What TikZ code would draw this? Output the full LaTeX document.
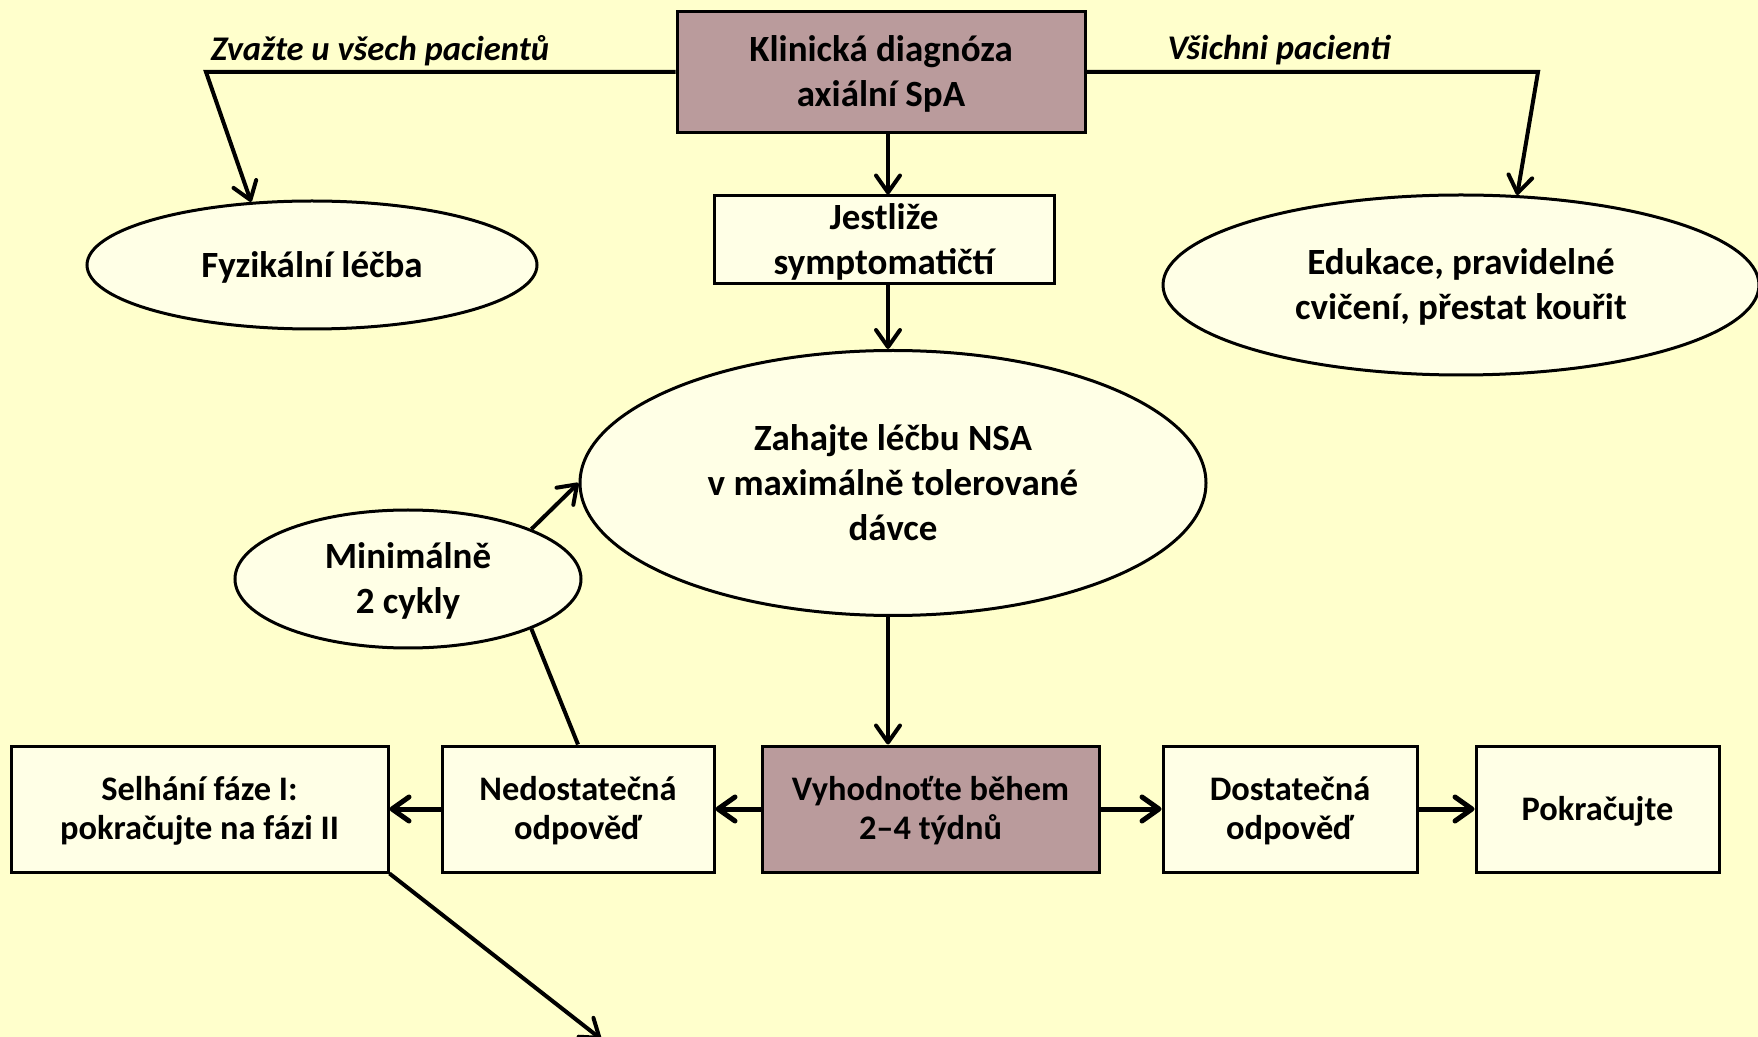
\documentclass[tikz,border=0pt]{standalone}
\usepackage{fontspec}
\setmainfont{Carlito}
\usetikzlibrary{shapes.geometric,arrows.meta}
\definecolor{pagebg}{HTML}{FFFFCC}
\definecolor{cellfill}{HTML}{FFFFE6}
\definecolor{keyfill}{HTML}{BA9B9C}
% struts give each text block the same first-line height and last-line
% depth, so text is centred by font metrics, not by the glyphs it holds
\newcommand\txtstrut{\rule{0pt}{0.9em}}
\begin{document}
\begin{tikzpicture}[x=0.5pt,y=-0.5pt,
  txt/.style={font=\fontsize{18.5}{22.5}\selectfont\bfseries, align=center, inner sep=0pt,
    execute at end node={\rule[-0.24em]{0pt}{0pt}}},
  cell/.style={txt, rectangle, draw, line width=1.5pt, fill=cellfill},
  rowcell/.style={cell, minimum height=63pt, font=\fontsize{17.2}{19.5}\selectfont\bfseries},
  oval/.style={txt, ellipse, draw, line width=1.5pt, fill=cellfill},
  branch/.style={font=\fontsize{17.3}{20}\selectfont\bfseries\itshape, inner sep=0pt, anchor=base},
  link/.style={line width=2pt},
  barb/.style={-{Straight Barb[length=8.5pt,width=12pt,round]}},
  conn/.style={link, barb},
  heavyconn/.style={line width=2.5pt, barb}]
\fill[pagebg] (0,0) rectangle (1758,1037);
\useasboundingbox (0,0) rectangle (1758,1037);

% upper part
\node[cell, fill=keyfill, minimum width=204pt, minimum height=60.5pt] (diag) at (881,72) {\txtstrut Klinická diagnóza\\axiální SpA};
\node[cell, minimum width=170pt, minimum height=44pt] (sympt) at (884,240) {\txtstrut Jestliže\\symptomatičtí};
\node[oval, minimum width=225pt, minimum height=64pt] (fyz) at (312,265) {\txtstrut Fyzikální léčba};
\node[oval, minimum width=298pt, minimum height=90pt] (edu) at (1461,285) {\txtstrut Edukace, pravidelné\\cvičení, přestat kouřit};
\node[oval, minimum width=313pt, minimum height=132.5pt] (nsa) at (893,483) {\txtstrut Zahajte léčbu NSA\\v maximálně tolerované\\dávce};
\node[oval, minimum width=173pt, minimum height=69pt] (cyk) at (408,579) {\txtstrut Minimálně\\2 cykly};

\node[branch] (lblall) at (380,61) {Zvažte u všech pacientů};
\node[branch] (lblevery) at (1279,60) {Všichni pacienti};

% bottom row
\node[rowcell, minimum width=188.5pt] (fail) at (199.5,809) {\txtstrut Selhání fáze I:\\pokračujte na fázi II};
\node[rowcell, minimum width=136pt] (ned) at (578,809) {\txtstrut Nedostatečná\\odpověď};
\node[rowcell, fill=keyfill, minimum width=168.5pt] (judge) at (930.5,809) {\txtstrut Vyhodnoťte během\\2–4 týdnů};
\node[rowcell, minimum width=127pt] (dos) at (1290,809) {\txtstrut Dostatečná\\odpověď};
\node[rowcell, minimum width=121.5pt] (pok) at (1597.5,809) {\txtstrut Pokračujte};

% turning points and free ends
\coordinate (vx) at (888,0);
\coordinate (lturn) at (206,72);
\coordinate (rturn) at (1538,72);
\coordinate (exit) at (601,1039);

% connectors
\draw[conn] (diag.west) -- (lturn) -- (fyz.134.5);
\draw[conn] (diag.east) -- (rturn) -- (edu.58);
\draw[conn] (diag.south -| vx) -- (sympt.north -| vx);
\draw[conn] (sympt.south -| vx) -- (nsa.north -| vx);
\draw[conn] (nsa.south -| vx) -- (judge.north -| vx);
\draw[conn] (cyk.22) -- (nsa.west);
\draw[link] (ned.north) -- (cyk.-22);
\draw[heavyconn] (judge.west) -- (ned.east);
\draw[heavyconn] (ned.west) -- (fail.east);
\draw[heavyconn] (judge.east) -- (dos.west);
\draw[heavyconn] (dos.east) -- (pok.west);
\draw[conn] (fail.south east) -- (exit);
\end{tikzpicture}
\end{document}
